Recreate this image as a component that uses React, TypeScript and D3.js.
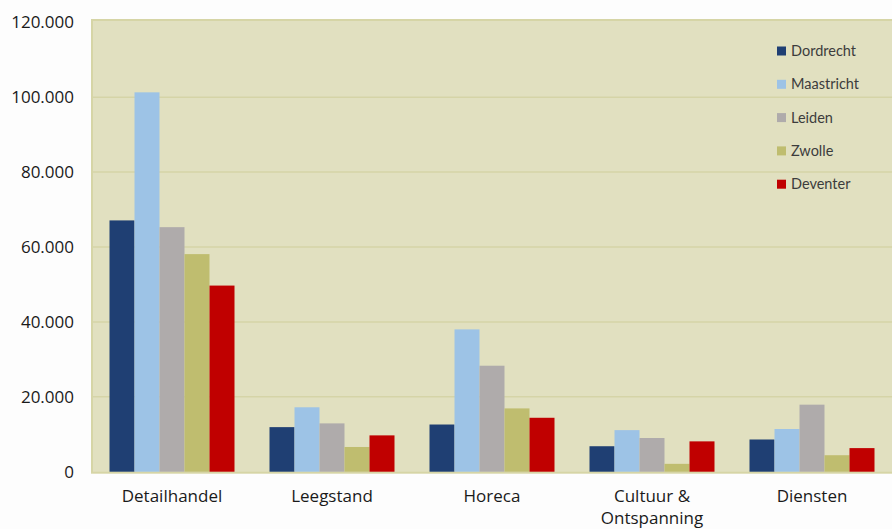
import React from "react";
import * as d3 from "d3";

const categories = ["Detailhandel", "Leegstand", "Horeca", "Cultuur & Ontspanning", "Diensten"];
const categoryLines = [["Detailhandel"], ["Leegstand"], ["Horeca"], ["Cultuur &", "Ontspanning"], ["Diensten"]];
const cities = ["Dordrecht", "Maastricht", "Leiden", "Zwolle", "Deventer"];
const cityColors = ["#1f3f73", "#9dc3e6", "#afabab", "#bfbd6f", "#c00000"];

const dordrecht = [67100, 11900, 12600, 6800, 8600];
const maastricht = [101300, 17200, 38000, 11100, 11400];
const leiden = [65300, 12900, 28300, 9000, 17900];
const zwolle = [58100, 6600, 16900, 2100, 4400];
const deventer = [49700, 9700, 14400, 8100, 6300];
const seriesValues = [dordrecht, maastricht, leiden, zwolle, deventer];

const yTicks = [0, 20000, 40000, 60000, 80000, 100000, 120000];

const W = 892;
const H = 529;
const plot = { left: 92, right: 892, top: 21, bottom: 471.7 };

export default function App() {
  const x0 = d3
    .scaleBand<string>()
    .domain(categories)
    .range([plot.left, plot.right])
    .paddingInner(0.21875)
    .paddingOuter(0.109375);
  const x1 = d3.scaleBand<string>().domain(cities).range([0, x0.bandwidth()]).padding(0);
  const y = d3.scaleLinear().domain([0, 120000]).range([plot.bottom, 22.3]);
  const fmt = (v: number) => d3.format(",")(v).replace(/,/g, ".");

  return (
    <svg
      width={W}
      height={H}
      style={{ position: "absolute", left: 0, top: 0, background: "#fdfdfd" }}
    >
      <rect
        x={plot.left}
        y={plot.top - 1}
        width={plot.right - plot.left + 4}
        height={plot.bottom - plot.top + 2}
        fill="#e1e0c0"
        stroke="#d6d5a6"
        strokeWidth={2}
      />
      {yTicks.slice(1, -1).map((t) => (
        <line
          key={t}
          x1={plot.left}
          x2={plot.right}
          y1={y(t)}
          y2={y(t)}
          stroke="#d5d4a7"
          strokeWidth={1.5}
        />
      ))}
      {yTicks.map((t) => (
        <text
          key={"l" + t}
          x={74}
          y={y(t) + 6}
          textAnchor="end"
          fontFamily="'Open Sans', sans-serif"
          fontSize={17}
          fill="#1a1a1a"
        >
          {fmt(t)}
        </text>
      ))}
      {categories.map((c, ci) => (
        <g key={c} transform={`translate(${x0(c)},0)`}>
          {cities.map((city, si) => {
            const v = seriesValues[si][ci];
            return (
              <rect
                key={city}
                x={x1(city)}
                y={y(v)}
                width={x1.bandwidth()}
                height={y(0) - y(v)}
                fill={cityColors[si]}
              />
            );
          })}
        </g>
      ))}
      {categories.map((c, ci) => (
        <text
          key={"c" + c}
          x={(x0(c) as number) + x0.bandwidth() / 2}
          y={502}
          textAnchor="middle"
          fontFamily="'Open Sans', sans-serif"
          fontSize={17}
          fill="#1a1a1a"
        >
          {categoryLines[ci].map((line, li) => (
            <tspan key={li} x={(x0(c) as number) + x0.bandwidth() / 2} dy={li === 0 ? 0 : 21.5}>
              {line}
            </tspan>
          ))}
        </text>
      ))}
      <g>
        {cities.map((city, i) => (
          <g key={city} transform={`translate(777,${51 + i * 33.3})`}>
            <rect x={0} y={-4.5} width={9} height={9} fill={cityColors[i]} />
            <text
              x={14}
              y={5}
              fontFamily="Lato, sans-serif"
              fontSize={14.5}
              fill="#3c3c3c"
            >
              {city}
            </text>
          </g>
        ))}
      </g>
    </svg>
  );
}
